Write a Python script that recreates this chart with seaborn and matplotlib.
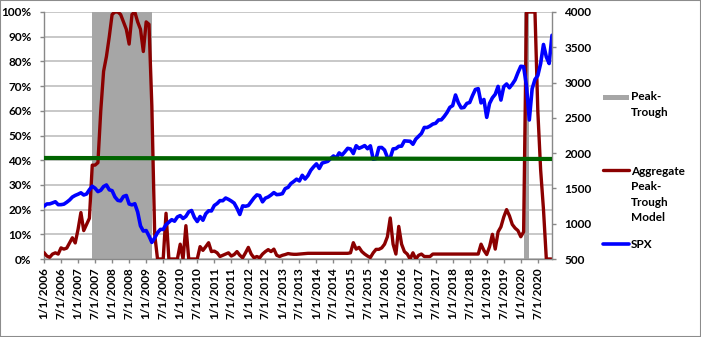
import numpy as np
import pandas as pd
import matplotlib
matplotlib.use("Agg")
import matplotlib.pyplot as plt
import seaborn as sns
from matplotlib.ticker import FuncFormatter, MultipleLocator
from matplotlib.patches import Rectangle
from matplotlib.lines import Line2D

# ---------------- data ----------------
start_month = "2006-01-01"
n_months = 180

# Aggregate Peak-Trough Model (percent), monthly Jan 2006 .. Dec 2020
model_pct = [
    2.6, 1.2, 0.7, 2.0, 2.5, 2.0, 4.5, 4.0, 4.4, 6.5, 8.6, 6.5,          # 2006
    12.0, 18.8, 11.5, 14.0, 16.5, 38.0, 38.0, 39.0, 60.0, 76.0, 82.0, 90.0,  # 2007
    99.0, 100, 100, 99.0, 96.0, 93.0, 87.0, 99.0, 100, 96.0, 93.0, 84.0,  # 2008
    96.0, 95.0, 62.0, 10.0, 0, 0, 0, 18.5, 0, 0, 0, 0,                   # 2009
    6.0, 0, 13.5, 0, 0, 0, 0, 5.0, 3.5, 5.0, 6.6, 3.0,                   # 2010
    3.2, 2.5, 1.0, 1.5, 2.0, 2.5, 1.2, 1.8, 3.0, 1.5, 0.5, 2.5,          # 2011
    4.7, 2.0, 0.5, 1.0, 0.5, 2.0, 3.0, 3.8, 3.0, 4.0, 1.5, 1.0,          # 2012
    1.5, 1.8, 2.2, 2.0, 1.9, 1.9, 2.0, 2.1, 2.2, 2.3, 2.3, 2.3,          # 2013
    2.3, 2.3, 2.3, 2.3, 2.3, 2.3, 2.3, 2.3, 2.3, 2.3, 2.3, 2.3,          # 2014
    2.5, 6.6, 4.0, 4.7, 3.0, 2.0, 1.2, 0.6, 2.5, 3.9, 3.9, 4.5,          # 2015
    6.0, 9.0, 16.6, 6.0, 2.0, 13.2, 6.0, 3.0, 2.0, 0, 2.5, 0,            # 2016
    1.5, 2.0, 1.0, 1.0, 1.0, 2.0, 2.0, 2.0, 2.0, 2.0, 2.0, 2.0,          # 2017
    2.0, 2.0, 2.0, 2.0, 2.0, 2.0, 2.0, 2.0, 2.0, 2.0, 6.0, 3.5,          # 2018
    1.8, 5.0, 10.0, 4.0, 11.0, 13.0, 17.0, 20.0, 17.5, 14.0, 12.5, 11.5, # 2019
    9.0, 11.0, 100, 100, 100, 100, 60.0, 36.0, 20.0, 0, 0, 0,            # 2020
]

# SPX level, monthly Jan 2006 .. Dec 2020
spx = [
    1248, 1280, 1281, 1295, 1311, 1270, 1270, 1277, 1304, 1336, 1378, 1401,  # 2006
    1418, 1438, 1407, 1421, 1482, 1531, 1503, 1455, 1474, 1527, 1549, 1481,  # 2007
    1468, 1379, 1331, 1323, 1386, 1400, 1280, 1267, 1283, 1166, 969, 896,    # 2008
    903, 826, 735, 798, 873, 919, 919, 987, 1021, 1057, 1036, 1096,          # 2009
    1115, 1074, 1104, 1169, 1187, 1089, 1031, 1102, 1049, 1141, 1183, 1181,  # 2010
    1258, 1286, 1327, 1326, 1364, 1345, 1321, 1292, 1219, 1131, 1253, 1247,  # 2011
    1258, 1312, 1366, 1408, 1398, 1310, 1362, 1379, 1407, 1441, 1412, 1416,  # 2012
    1426, 1498, 1515, 1569, 1598, 1631, 1606, 1686, 1633, 1682, 1757, 1806,  # 2013
    1848, 1783, 1859, 1872, 1884, 1924, 1960, 1931, 2003, 1972, 2018, 2068,  # 2014
    2059, 1995, 2105, 2068, 2086, 2107, 2063, 2104, 1914, 1923, 2079, 2080,  # 2015
    2044, 1940, 1932, 2060, 2065, 2097, 2099, 2174, 2171, 2168, 2126, 2199,  # 2016
    2239, 2279, 2364, 2363, 2384, 2412, 2423, 2470, 2472, 2519, 2575, 2648,  # 2017
    2674, 2824, 2714, 2641, 2648, 2705, 2718, 2816, 2902, 2914, 2712, 2760,  # 2018
    2507, 2704, 2784, 2834, 2946, 2752, 2942, 2980, 2926, 2977, 3038, 3141,  # 2019
    3231, 3226, 2954, 2470, 2912, 3044, 3100, 3271, 3540, 3363, 3270, 3670,  # 2020
]

# Peak-Trough periods (first month, last month), shown as 100% columns
peak_trough_periods = [("2007-06-01", "2009-02-01"), ("2020-02-01", "2020-03-01")]

# green reference line (percent) at the first and last month
trend_pct = [40.9, 40.5]

legend_labels = ["Peak-\nTrough", "Aggregate\nPeak-\nTrough\nModel", "SPX"]

# ---------------- build table ----------------
months = pd.date_range(start_month, periods=n_months, freq="MS")
df = pd.DataFrame({"date": months, "k": np.arange(n_months),
                   "model": model_pct, "spx": spx})
pt = np.zeros(n_months)
for a, b in peak_trough_periods:
    pt[(months >= pd.Timestamp(a)) & (months <= pd.Timestamp(b))] = 100
df["pt"] = pt
df["label"] = [f"{d.month}/1/{d.year}" for d in months]
trend_df = pd.DataFrame({"k": [0, n_months - 1], "v": trend_pct})

# ---------------- style ----------------
sns.set_theme(style="white")
plt.rcParams['font.family'] = ['Lato', 'DejaVu Sans']
FS = 8.5
RED = "#8B0000"
BLUE = "#0000FF"
GREEN = "#006400"
GRAY_BAR = "#A6A6A6"
AXIS_GRAY = "#888888"
GRID = "#BFBFBF"

W, H = 701, 337
fig = plt.figure(figsize=(W / 100, H / 100), dpi=100)
fig.patch.set_facecolor("white")
ax = fig.add_axes([44 / W, 1 - 259 / H, 508 / W, 247 / H])

ax.bar(df["k"], df["pt"], width=1.0, align="edge", color=GRAY_BAR, linewidth=0, zorder=1)
sns.lineplot(data=df, x="k", y="model", ax=ax, color=RED, linewidth=2.4, legend=False, zorder=3)

ax.set_xlim(0, n_months - 1)
ax.set_ylim(0, 100)
ax.yaxis.set_major_locator(MultipleLocator(10))
ax.yaxis.set_major_formatter(FuncFormatter(lambda v, p: f"{int(round(v))}%"))
ax.set_xticks(df["k"][::6])
ax.set_xticklabels(df["label"][::6], rotation=90)
ax.set_xlabel("")
ax.set_ylabel("")
ax.set_axisbelow(True)
ax.yaxis.grid(True, color=GRID, linewidth=1.2)
ax.xaxis.grid(False)
for s in ["top", "right"]:
    ax.spines[s].set_visible(False)
for s in ["left", "bottom"]:
    ax.spines[s].set_color(AXIS_GRAY)
    ax.spines[s].set_linewidth(1.0)
ax.tick_params(axis="y", left=True, direction="out", length=3, width=1, color=AXIS_GRAY,
               pad=6, labelsize=FS, labelcolor="black")
ax.tick_params(axis="x", bottom=True, direction="out", length=3, width=1, color=AXIS_GRAY,
               pad=3, labelsize=FS, labelcolor="black")
for t in ax.get_xticklabels() + ax.get_yticklabels():
    t.set_fontweight("bold")

ax2 = ax.twinx()
sns.lineplot(data=df, x="k", y="spx", ax=ax2, color=BLUE, linewidth=2.6, legend=False)
ax2.set_ylim(500, 4000)
ax2.yaxis.set_major_locator(MultipleLocator(500))
ax2.set_ylabel("")
for s in ["top", "left", "bottom"]:
    ax2.spines[s].set_visible(False)
ax2.spines["right"].set_color(AXIS_GRAY)
ax2.spines["right"].set_linewidth(1.0)
ax2.tick_params(axis="y", right=True, direction="out", length=3, width=1, color=AXIS_GRAY,
                pad=6, labelsize=FS, labelcolor="black")
for t in ax2.get_yticklabels():
    t.set_fontweight("bold")
ax2.grid(False)

ax3 = ax.twinx()
sns.lineplot(data=trend_df, x="k", y="v", ax=ax3, color=GREEN, linewidth=3.0, legend=False)
ax3.set_ylim(0, 100)
ax3.set_xlim(0, n_months - 1)
ax3.axis("off")

# ---------------- legend (drawn at the right of the plot) ----------------
def fx(x):
    return x / W

def fy(y):
    return 1 - y / H

fig.add_artist(Rectangle((fx(603), fy(100)), 26 / W, 5 / H, transform=fig.transFigure,
                         color=GRAY_BAR, linewidth=0))
fig.add_artist(Line2D([fx(603), fx(629)], [fy(170), fy(170)], transform=fig.transFigure,
                      color=RED, linewidth=2.4))
fig.add_artist(Line2D([fx(603), fx(629)], [fy(244), fy(244)], transform=fig.transFigure,
                      color=BLUE, linewidth=2.6))
for lab, yc in zip(legend_labels, [104.5, 194.5, 244]):
    fig.text(fx(631), fy(yc), lab, ha="left", va="center", fontsize=FS, fontweight="bold",
             linespacing=1.5, color="black")

# chart border
fig.add_artist(Rectangle((0, 0), 1, 1, transform=fig.transFigure, fill=False,
                         edgecolor="#8C8C8C", linewidth=1.5))

fig.savefig("out.png", dpi=100)
